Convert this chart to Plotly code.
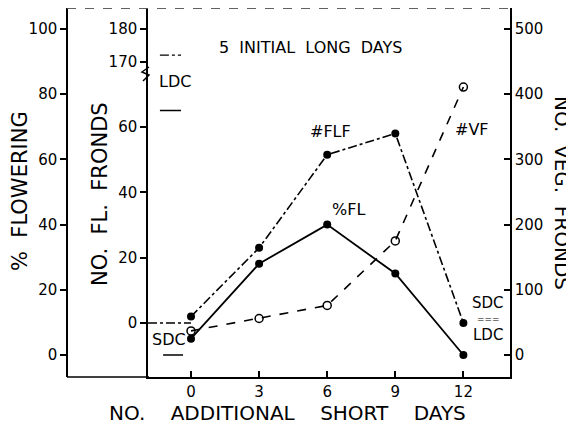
import plotly.graph_objects as go

# ---------------- data ----------------
days = [0, 3, 6, 9, 12]
pct_fl = [5, 28, 40, 25, 0]          # % flowering (left axis)
n_flf = [2, 23, 51.5, 58, 0]         # no. flowering fronds (middle axis)
n_vf = [37, 56, 76, 175, 411]        # no. vegetative fronds (right axis)

day_ticks = [0, 3, 6, 9, 12]
pct_ticks = [0, 20, 40, 60, 80, 100]
flf_ticks = [0, 20, 40, 60, 170, 180]
vf_ticks = [0, 100, 200, 300, 400, 500]

# controls
ldc_pct_fl = 75
sdc_pct_fl = 0
ldc_flf = 172
sdc_flf = 0
ctrl_vf = 55

# page body has an 8px margin: figure is placed at (8, 8) in the window
OFF = 8
W, H = 574 - OFF, 431 - OFF
FONT = "DejaVu Sans"


def brk(v):
    # broken middle axis: values above the break are shifted down by 90
    return v if v <= 80 else v - 90


def px(x):
    return (x - OFF) / W


def py(y):
    return 1 - (y - OFF) / H


X0, PX_PER_DAY = 191.0, 22.7
xr = [(148 - X0) / PX_PER_DAY, (510 - X0) / PX_PER_DAY]

fig = go.Figure()
fig.add_trace(go.Scatter(x=days, y=[brk(v) for v in n_flf], yaxis="y",
                         mode="lines+markers",
                         line=dict(color="black", width=1.6, dash="dashdot"),
                         marker=dict(symbol="circle", size=8, color="black"),
                         showlegend=False))
fig.add_trace(go.Scatter(x=days, y=pct_fl, yaxis="y2",
                         mode="lines+markers",
                         line=dict(color="black", width=1.8),
                         marker=dict(symbol="circle", size=8, color="black"),
                         showlegend=False))
fig.add_trace(go.Scatter(x=days, y=n_vf, yaxis="y3",
                         mode="lines+markers",
                         line=dict(color="black", width=1.6, dash="dash"),
                         marker=dict(symbol="circle-open", size=8, color="black",
                                     line=dict(width=1.5, color="black")),
                         showlegend=False))


def common():
    return dict(showgrid=False, zeroline=False, showline=True,
                linecolor="black", linewidth=1.5, tickcolor="black",
                tickwidth=1.5, ticklen=6,
                tickfont=dict(family=FONT, size=15, color="black"))


top_px = OFF  # top of the plotting frame in window pixels
fig.update_layout(
    width=W, height=H,
    margin=dict(l=0, r=0, t=0, b=0),
    paper_bgcolor="white", plot_bgcolor="white",
    font=dict(family=FONT, color="black"),
    xaxis=dict(domain=[px(148), px(510)], range=xr, tickvals=day_ticks,
               ticks="inside", anchor="y", **common()),
    yaxis=dict(domain=[py(377), py(top_px)],
               range=[-(377 - 323) / 3.267, (323 - top_px) / 3.267],
               tickvals=[brk(v) for v in flf_ticks],
               ticktext=[str(v) for v in flf_ticks],
               ticks="outside", side="left", anchor="x", **common()),
    yaxis2=dict(range=[-(377 - 355) / 3.26, (355 - top_px) / 3.26],
                tickvals=pct_ticks, ticks="outside", side="left",
                overlaying="y", anchor="free", position=px(67), **common()),
    yaxis3=dict(range=[-(377 - 355) / 0.652, (355 - top_px) / 0.652],
                tickvals=vf_ticks, ticks="inside", side="right",
                overlaying="y", anchor="x", **common()),
)

line = dict(color="black", width=1.5)
shapes = [
    # frame lines (bottom-left extension and top)
    dict(type="line", xref="paper", yref="paper", x0=px(67), x1=px(149),
         y0=py(377), y1=py(377), line=line),
    dict(type="line", xref="paper", yref="paper", x0=px(67), x1=px(510),
         y0=py(top_px) - 0.001, y1=py(top_px) - 0.001,
         line=dict(color="#555", width=1, dash="dash")),
    # axis break zigzag on middle axis
    dict(type="path", xref="paper", yref="paper",
         path=f"M {px(149)},{py(67)} L {px(142)},{py(72)} L {px(149)},{py(75)} L {px(143)},{py(81)}",
         line=line),
    # control markers
    dict(type="line", xref="x", yref="y2", x0=-1.37, x1=-0.44,
         y0=ldc_pct_fl, y1=ldc_pct_fl, line=line),
    dict(type="line", xref="x", yref="y", x0=-1.37, x1=-0.44,
         y0=brk(ldc_flf), y1=brk(ldc_flf),
         line=dict(color="black", width=1.3, dash="dashdot")),
    dict(type="line", xref="x", yref="y2", x0=-1.23, x1=-0.35,
         y0=sdc_pct_fl, y1=sdc_pct_fl, line=line),
    dict(type="line", xref="x", yref="y", x0=xr[0], x1=0,
         y0=sdc_flf, y1=sdc_flf,
         line=dict(color="black", width=1.3, dash="dashdot")),
]
fig.update_layout(shapes=shapes)

ann = []


def label(text, x, y, size=16, angle=0):
    ann.append(dict(text=text, x=px(x), y=py(y), xref="paper", yref="paper",
                    showarrow=False, textangle=angle,
                    font=dict(family=FONT, size=size, color="black"),
                    xanchor="center", yanchor="middle"))


NB = "\u00a0"
label(f"5{NB}{NB}INITIAL{NB}{NB}LONG{NB}{NB}DAYS", 310.5, 47, size=16)
label("LDC", 175, 81)
label("SDC", 168.5, 339)
label("#FLF", 330, 132)
label("%FL", 348.5, 209)
label("#VF", 471.5, 129)
label("SDC", 487.5, 303, size=15)
label("LDC", 487.5, 335, size=15)
ann.append(dict(text="===", x=(488 - X0) / PX_PER_DAY, y=ctrl_vf, xref="x",
                yref="y3", showarrow=False,
                font=dict(family=FONT, size=9, color="black"),
                xanchor="center", yanchor="middle"))
label(f"NO.{NB*4}ADDITIONAL{NB*4}SHORT{NB*4}DAYS", 287.5, 413, size=20)
label(f"%{NB*2}FLOWERING", 20, 191, size=21, angle=-90)
label(f"NO.{NB*2}FL.{NB*2}FRONDS", 100, 194, size=21, angle=-90)
label(f"NO.{NB*2}VEG.{NB*2}FRONDS", 562, 193, size=20, angle=90)
fig.update_layout(annotations=ann)

fig.write_html("out.html")
